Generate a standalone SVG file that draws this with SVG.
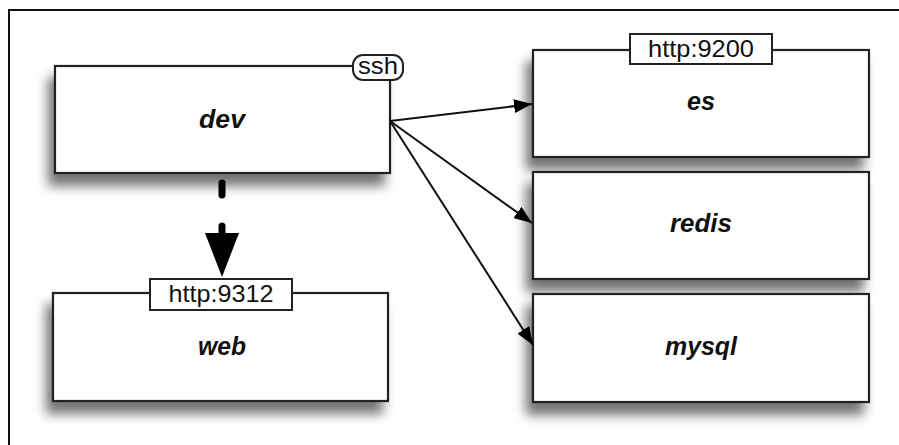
<svg xmlns="http://www.w3.org/2000/svg" width="899" height="445" viewBox="0 0 899 445">
  <defs>
    <style>
      .box { fill: #fff; stroke: #222; stroke-width: 2.2; }
      .tag { fill: #fff; stroke: #222; stroke-width: 2; }
      .name { font-family: "Liberation Sans", Arial, sans-serif; font-size: 25px; font-weight: bold; font-style: italic; fill: #111; text-anchor: middle; }
      .port { font-family: "Liberation Sans", Arial, sans-serif; font-size: 24px; fill: #111; text-anchor: middle; }
      .conn { fill: none; stroke: #111; stroke-width: 2; }
      .dash { fill: none; stroke: #000; stroke-width: 7; stroke-linecap: round; }
    </style>
    <filter id="shadow" x="-10%" y="-20%" width="120%" height="160%">
      <feGaussianBlur in="SourceAlpha" stdDeviation="6"/>
      <feOffset dx="-6" dy="12" result="b"/>
      <feComponentTransfer><feFuncA type="linear" slope="0.55"/></feComponentTransfer>
      <feMerge><feMergeNode/><feMergeNode in="SourceGraphic"/></feMerge>
    </filter>
    <marker id="arr" viewBox="0 0 18 14" refX="18" refY="7" markerWidth="18" markerHeight="14" markerUnits="userSpaceOnUse" orient="auto">
      <path d="M0,0 L18,7 L0,14 Z" fill="#000"/>
    </marker>
  </defs>

  <rect x="0" y="0" width="899" height="445" fill="#fff"/>
  <path d="M9,445 L9,10 L899,10" fill="none" stroke="#111" stroke-width="2"/>

  <g id="dev">
    <rect class="box" x="55" y="66" width="335" height="107" filter="url(#shadow)"/>
    <text class="name" x="222" y="128" textLength="46" lengthAdjust="spacingAndGlyphs">dev</text>
    <rect class="tag" x="353" y="55" width="50" height="25" rx="10"/>
    <text class="port" x="378" y="74" font-size="22" textLength="40" lengthAdjust="spacingAndGlyphs">ssh</text>
  </g>

  <g id="web">
    <rect class="box" x="53" y="293" width="335" height="108" filter="url(#shadow)"/>
    <text class="name" x="222" y="355" textLength="48" lengthAdjust="spacingAndGlyphs">web</text>
    <rect class="tag" x="150" y="279" width="142" height="31"/>
    <text class="port" x="221" y="302" textLength="105" lengthAdjust="spacingAndGlyphs">http:9312</text>
  </g>

  <g id="es">
    <rect class="box" x="533" y="50" width="336" height="107" filter="url(#shadow)"/>
    <text class="name" x="701" y="110" textLength="28" lengthAdjust="spacingAndGlyphs">es</text>
    <rect class="tag" x="630" y="34" width="142" height="30"/>
    <text class="port" x="701" y="57" textLength="106" lengthAdjust="spacingAndGlyphs">http:9200</text>
  </g>

  <g id="redis">
    <rect class="box" x="533" y="172" width="336" height="107" filter="url(#shadow)"/>
    <text class="name" x="701" y="232" textLength="62" lengthAdjust="spacingAndGlyphs">redis</text>
  </g>

  <g id="mysql">
    <rect class="box" x="533" y="294" width="336" height="108" filter="url(#shadow)"/>
    <text class="name" x="701" y="355" textLength="72" lengthAdjust="spacingAndGlyphs">mysql</text>
  </g>

  <g id="connectors">
    <line class="conn" x1="390" y1="121" x2="532" y2="104" marker-end="url(#arr)"/>
    <line class="conn" x1="390" y1="121" x2="532" y2="223" marker-end="url(#arr)"/>
    <line class="conn" x1="390" y1="121" x2="533" y2="345" marker-end="url(#arr)"/>
    <line class="dash" x1="222" y1="183" x2="222" y2="195"/>
    <line class="dash" x1="222" y1="226" x2="222" y2="236"/>
    <path d="M205,233 L239,233 L222,277 Z" fill="#000"/>
  </g>
</svg>
